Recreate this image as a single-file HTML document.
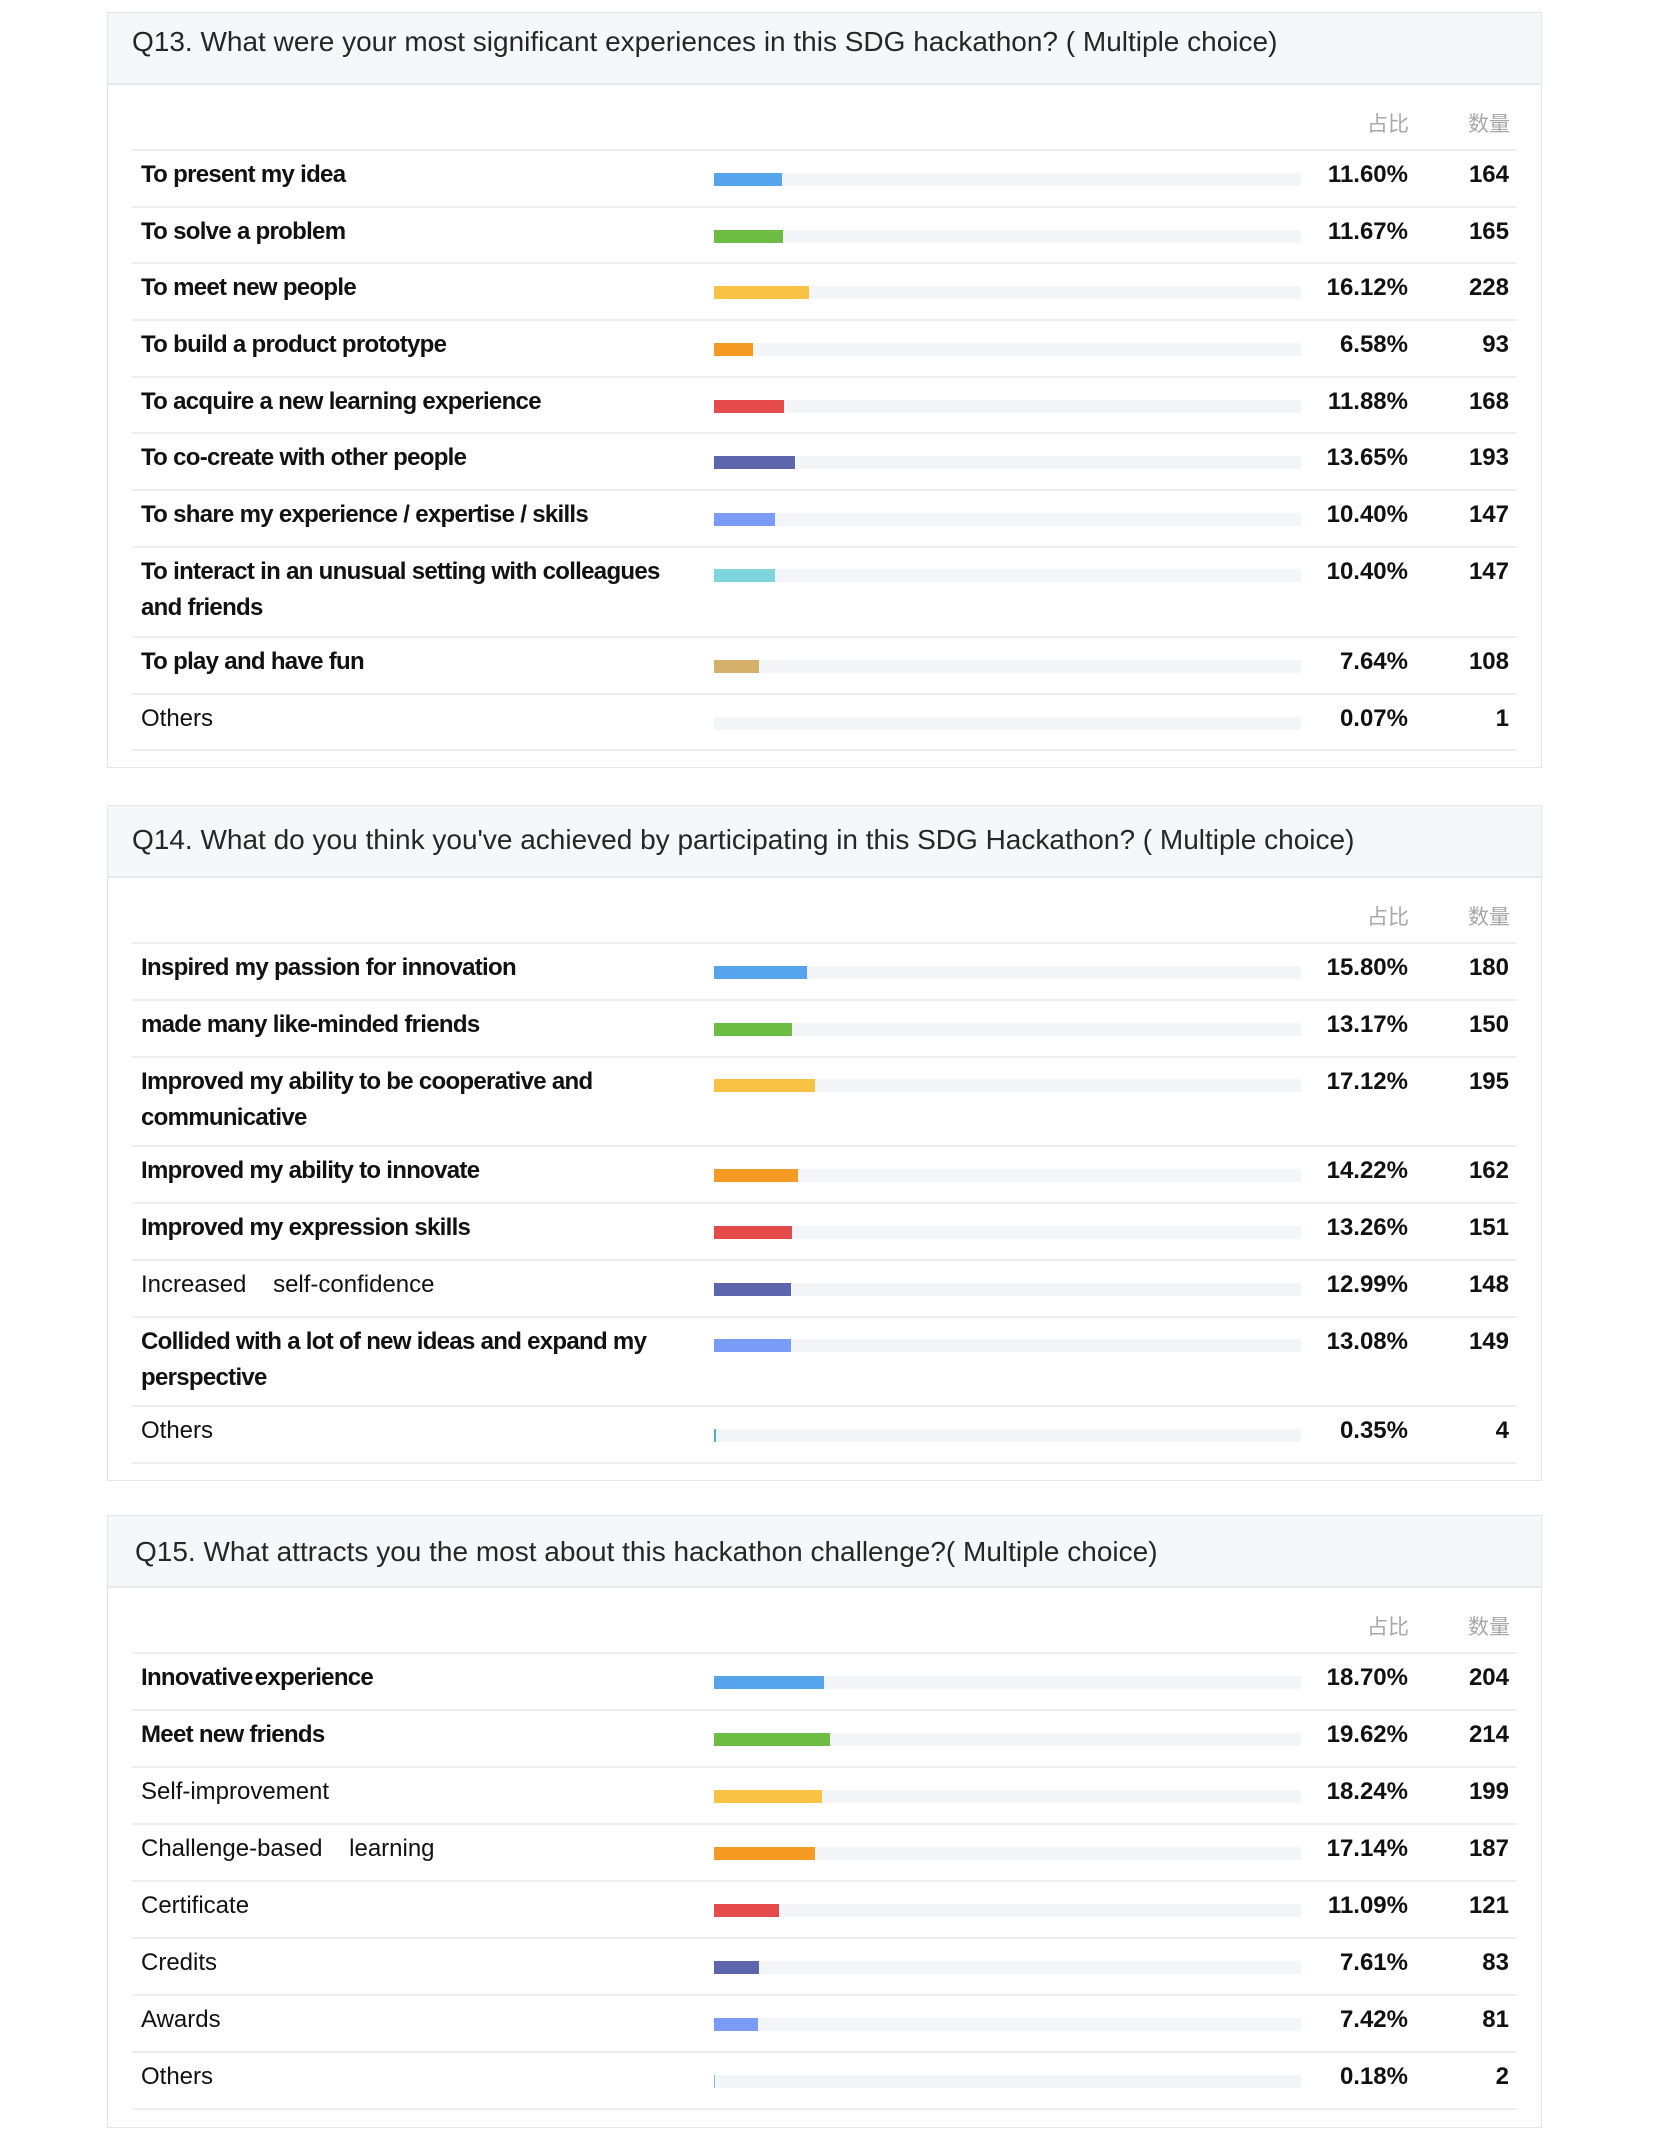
<!DOCTYPE html>
<html>
<head>
<meta charset="utf-8">
<style>
  html,body{margin:0;padding:0;background:#fff;}
  body{position:relative;width:1653px;height:2141px;overflow:hidden;font-family:"Liberation Sans","Noto Sans CJK SC",sans-serif;}
  .card{position:absolute;left:107px;width:1435px;border:1.5px solid #e3e5e9;box-sizing:border-box;background:#fff;}
  .hd{position:absolute;left:0;right:0;top:0;height:70px;background:#f5f7fa;border-bottom:2px solid #e7e9ed;}
  .title{position:absolute;font-size:28px;line-height:40px;color:#262626;white-space:nowrap;}
  .ln{position:absolute;left:132px;width:1385px;height:2px;background:#eceef1;}
  .lb{position:absolute;left:141px;font-size:24px;line-height:36px;color:#111;white-space:nowrap;}
  .b{font-weight:bold;letter-spacing:-0.7px;}
  .pc{position:absolute;right:245px;font-size:24px;line-height:36px;font-weight:bold;color:#111;text-align:right;white-space:nowrap;}
  .ct{position:absolute;right:144px;font-size:24px;line-height:36px;font-weight:bold;color:#111;text-align:right;white-space:nowrap;}
  .tr{position:absolute;left:714px;width:587px;height:13px;background:#f3f5f8;}
  .bar{position:absolute;left:714px;height:13px;}
  .hl{position:absolute;font-family:"Noto Sans CJK SC","WenQuanYi Zen Hei",sans-serif;font-size:21px;line-height:24px;color:#a8a8a8;white-space:nowrap;}
</style>
</head>
<body>

<!-- ============ Q13 ============ -->
<div class="card" style="top:12px;height:756px;"><div class="hd"></div></div>
<div class="title" style="left:132px;top:22px;">Q13. What were your most significant experiences in this SDG hackathon? ( Multiple choice)</div>
<div class="hl" style="right:244px;top:111px;">占比</div>
<div class="hl" style="right:143px;top:111px;">数量</div>

<div class="ln" style="top:149px;"></div>
<div class="lb b" style="top:157px;">To present my idea</div>
<div class="tr" style="top:173px;"></div><div class="bar" style="top:173px;width:68px;background:#55a4ec;"></div>
<div class="pc" style="top:157px;">11.60%</div><div class="ct" style="top:157px;">164</div>

<div class="ln" style="top:206px;"></div>
<div class="lb b" style="top:214px;">To solve a problem</div>
<div class="tr" style="top:230px;"></div><div class="bar" style="top:230px;width:69px;background:#6dbd45;"></div>
<div class="pc" style="top:214px;">11.67%</div><div class="ct" style="top:214px;">165</div>

<div class="ln" style="top:262px;"></div>
<div class="lb b" style="top:270px;">To meet new people</div>
<div class="tr" style="top:286px;"></div><div class="bar" style="top:286px;width:95px;background:#f8c245;"></div>
<div class="pc" style="top:270px;">16.12%</div><div class="ct" style="top:270px;">228</div>

<div class="ln" style="top:319px;"></div>
<div class="lb b" style="top:327px;">To build a product prototype</div>
<div class="tr" style="top:343px;"></div><div class="bar" style="top:343px;width:39px;background:#f59a22;"></div>
<div class="pc" style="top:327px;">6.58%</div><div class="ct" style="top:327px;">93</div>

<div class="ln" style="top:376px;"></div>
<div class="lb b" style="top:384px;">To acquire a new learning experience</div>
<div class="tr" style="top:400px;"></div><div class="bar" style="top:400px;width:70px;background:#e54b4b;"></div>
<div class="pc" style="top:384px;">11.88%</div><div class="ct" style="top:384px;">168</div>

<div class="ln" style="top:432px;"></div>
<div class="lb b" style="top:440px;">To co-create with other people</div>
<div class="tr" style="top:456px;"></div><div class="bar" style="top:456px;width:81px;background:#5d65ad;"></div>
<div class="pc" style="top:440px;">13.65%</div><div class="ct" style="top:440px;">193</div>

<div class="ln" style="top:489px;"></div>
<div class="lb b" style="top:497px;">To share my experience / expertise / skills</div>
<div class="tr" style="top:513px;"></div><div class="bar" style="top:513px;width:61px;background:#7b9cf6;"></div>
<div class="pc" style="top:497px;">10.40%</div><div class="ct" style="top:497px;">147</div>

<div class="ln" style="top:546px;"></div>
<div class="lb b" style="top:554px;">To interact in an unusual setting with colleagues<br>and friends</div>
<div class="tr" style="top:569px;"></div><div class="bar" style="top:569px;width:61px;background:#7fd5dc;"></div>
<div class="pc" style="top:554px;">10.40%</div><div class="ct" style="top:554px;">147</div>

<div class="ln" style="top:636px;"></div>
<div class="lb b" style="top:644px;">To play and have fun</div>
<div class="tr" style="top:660px;"></div><div class="bar" style="top:660px;width:45px;background:#d4b06a;"></div>
<div class="pc" style="top:644px;">7.64%</div><div class="ct" style="top:644px;">108</div>

<div class="ln" style="top:693px;"></div>
<div class="lb" style="top:701px;">Others</div>
<div class="tr" style="top:717px;"></div>
<div class="pc" style="top:701px;">0.07%</div><div class="ct" style="top:701px;">1</div>

<div class="ln" style="top:749px;"></div>

<!-- ============ Q14 ============ -->
<div class="card" style="top:805px;height:676px;"><div class="hd"></div></div>
<div class="title" style="left:132px;top:820px;">Q14. What do you think you've achieved by participating in this SDG Hackathon? ( Multiple choice)</div>
<div class="hl" style="right:244px;top:904px;">占比</div>
<div class="hl" style="right:143px;top:904px;">数量</div>

<div class="ln" style="top:942px;"></div>
<div class="lb b" style="top:950px;">Inspired my passion for innovation</div>
<div class="tr" style="top:966px;"></div><div class="bar" style="top:966px;width:93px;background:#55a4ec;"></div>
<div class="pc" style="top:950px;">15.80%</div><div class="ct" style="top:950px;">180</div>

<div class="ln" style="top:999px;"></div>
<div class="lb b" style="top:1007px;">made many like-minded friends</div>
<div class="tr" style="top:1023px;"></div><div class="bar" style="top:1023px;width:78px;background:#6dbd45;"></div>
<div class="pc" style="top:1007px;">13.17%</div><div class="ct" style="top:1007px;">150</div>

<div class="ln" style="top:1056px;"></div>
<div class="lb b" style="top:1064px;">Improved my ability to be cooperative and<br>communicative</div>
<div class="tr" style="top:1079px;"></div><div class="bar" style="top:1079px;width:101px;background:#f8c245;"></div>
<div class="pc" style="top:1064px;">17.12%</div><div class="ct" style="top:1064px;">195</div>

<div class="ln" style="top:1145px;"></div>
<div class="lb b" style="top:1153px;">Improved my ability to innovate</div>
<div class="tr" style="top:1169px;"></div><div class="bar" style="top:1169px;width:84px;background:#f59a22;"></div>
<div class="pc" style="top:1153px;">14.22%</div><div class="ct" style="top:1153px;">162</div>

<div class="ln" style="top:1202px;"></div>
<div class="lb b" style="top:1210px;">Improved my expression skills</div>
<div class="tr" style="top:1226px;"></div><div class="bar" style="top:1226px;width:78px;background:#e54b4b;"></div>
<div class="pc" style="top:1210px;">13.26%</div><div class="ct" style="top:1210px;">151</div>

<div class="ln" style="top:1259px;"></div>
<div class="lb" style="top:1267px;">Increased&nbsp;&nbsp;&nbsp;&nbsp;self-confidence</div>
<div class="tr" style="top:1283px;"></div><div class="bar" style="top:1283px;width:77px;background:#5d65ad;"></div>
<div class="pc" style="top:1267px;">12.99%</div><div class="ct" style="top:1267px;">148</div>

<div class="ln" style="top:1316px;"></div>
<div class="lb b" style="top:1324px;">Collided with a lot of new ideas and expand my<br>perspective</div>
<div class="tr" style="top:1339px;"></div><div class="bar" style="top:1339px;width:77px;background:#7b9cf6;"></div>
<div class="pc" style="top:1324px;">13.08%</div><div class="ct" style="top:1324px;">149</div>

<div class="ln" style="top:1405px;"></div>
<div class="lb" style="top:1413px;">Others</div>
<div class="tr" style="top:1429px;"></div><div class="bar" style="top:1429px;width:2px;background:#4ab3c4;"></div>
<div class="pc" style="top:1413px;">0.35%</div><div class="ct" style="top:1413px;">4</div>

<div class="ln" style="top:1462px;"></div>

<!-- ============ Q15 ============ -->
<div class="card" style="top:1515px;height:613px;"><div class="hd"></div></div>
<div class="title" style="left:135px;top:1532px;">Q15. What attracts you the most about this hackathon challenge?( Multiple choice)</div>
<div class="hl" style="right:244px;top:1614px;">占比</div>
<div class="hl" style="right:143px;top:1614px;">数量</div>

<div class="ln" style="top:1652px;"></div>
<div class="lb b" style="top:1660px;word-spacing:-4px;">Innovative experience</div>
<div class="tr" style="top:1676px;"></div><div class="bar" style="top:1676px;width:110px;background:#55a4ec;"></div>
<div class="pc" style="top:1660px;">18.70%</div><div class="ct" style="top:1660px;">204</div>

<div class="ln" style="top:1709px;"></div>
<div class="lb b" style="top:1717px;">Meet new friends</div>
<div class="tr" style="top:1733px;"></div><div class="bar" style="top:1733px;width:116px;background:#6dbd45;"></div>
<div class="pc" style="top:1717px;">19.62%</div><div class="ct" style="top:1717px;">214</div>

<div class="ln" style="top:1766px;"></div>
<div class="lb" style="top:1774px;">Self-improvement</div>
<div class="tr" style="top:1790px;"></div><div class="bar" style="top:1790px;width:108px;background:#f8c245;"></div>
<div class="pc" style="top:1774px;">18.24%</div><div class="ct" style="top:1774px;">199</div>

<div class="ln" style="top:1823px;"></div>
<div class="lb" style="top:1831px;">Challenge-based&nbsp;&nbsp;&nbsp;&nbsp;learning</div>
<div class="tr" style="top:1847px;"></div><div class="bar" style="top:1847px;width:101px;background:#f59a22;"></div>
<div class="pc" style="top:1831px;">17.14%</div><div class="ct" style="top:1831px;">187</div>

<div class="ln" style="top:1880px;"></div>
<div class="lb" style="top:1888px;">Certificate</div>
<div class="tr" style="top:1904px;"></div><div class="bar" style="top:1904px;width:65px;background:#e54b4b;"></div>
<div class="pc" style="top:1888px;">11.09%</div><div class="ct" style="top:1888px;">121</div>

<div class="ln" style="top:1937px;"></div>
<div class="lb" style="top:1945px;">Credits</div>
<div class="tr" style="top:1961px;"></div><div class="bar" style="top:1961px;width:45px;background:#5d65ad;"></div>
<div class="pc" style="top:1945px;">7.61%</div><div class="ct" style="top:1945px;">83</div>

<div class="ln" style="top:1994px;"></div>
<div class="lb" style="top:2002px;">Awards</div>
<div class="tr" style="top:2018px;"></div><div class="bar" style="top:2018px;width:44px;background:#7b9cf6;"></div>
<div class="pc" style="top:2002px;">7.42%</div><div class="ct" style="top:2002px;">81</div>

<div class="ln" style="top:2051px;"></div>
<div class="lb" style="top:2059px;">Others</div>
<div class="tr" style="top:2075px;"></div><div class="bar" style="top:2075px;width:1px;background:#7fc4dc;"></div>
<div class="pc" style="top:2059px;">0.18%</div><div class="ct" style="top:2059px;">2</div>

<div class="ln" style="top:2108px;"></div>

</body>
</html>
